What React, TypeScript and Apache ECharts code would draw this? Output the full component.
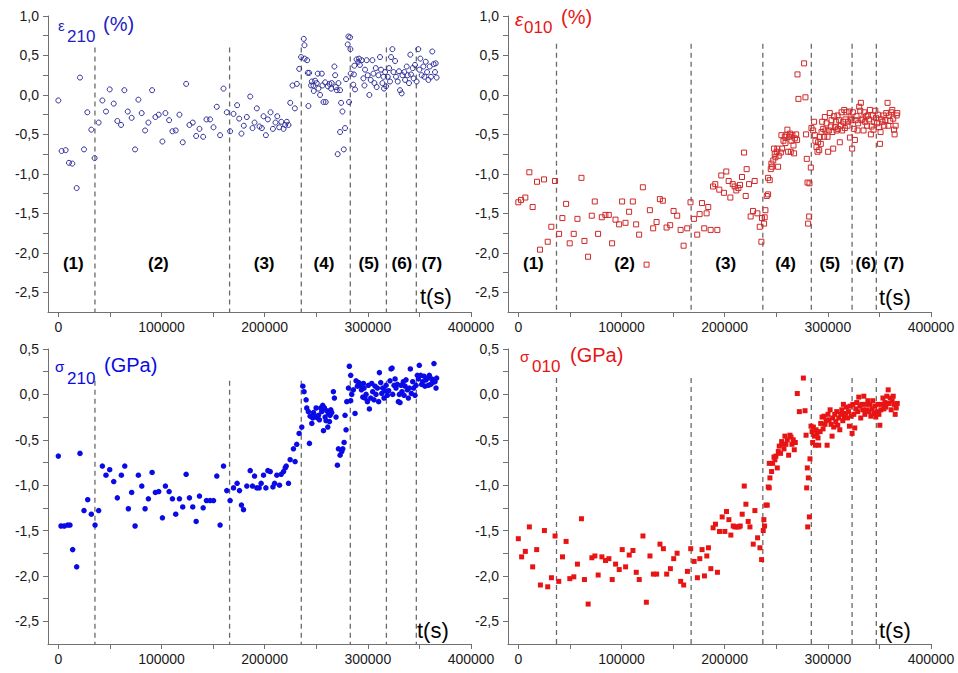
import React, { useEffect, useRef } from 'react';
import * as echarts from 'echarts';

// ---------- data (t in seconds, value) ----------
const eps210: number[][] = [
  [0,-0.07],[3200,-0.71],[7100,-0.70],[10300,-0.86],[13600,-0.87],[17800,-1.18],[21000,0.22],[24900,-0.69],[28100,-0.22],[32000,-0.44],[35200,-0.80],[39100,-0.35],[42700,-0.07],[46200,-0.21],[49800,0.07],[53700,-0.11],[57200,-0.33],[60800,-0.38],[64000,0.06],[67300,-0.21],[71100,-0.29],[74400,-0.69],[77600,-0.06],[80800,-0.23],[84100,-0.45],[87300,-0.35],[90900,0.06],[94100,-0.28],[97300,-0.25],[100900,-0.59],[103800,-0.23],[107400,-0.32],[110600,-0.46],[113800,-0.45],[117400,-0.25],[120600,-0.60],[123900,0.14],[127100,-0.38],[130300,-0.35],[133600,-0.52],[136800,-0.43],[140400,-0.53],[143600,-0.31],[147100,-0.31],[150400,-0.41],[153600,-0.15],[156800,-0.51],[160100,0.08],[163300,-0.22],[166500,-0.46],[169800,-0.24],[173300,-0.13],[175300,-0.30],[177500,-0.49],[179800,-0.39],[182700,-0.28],[186000,-0.02],[188200,-0.42],[190200,-0.35],[192400,-0.17],[195000,-0.40],[197300,-0.42],[198900,-0.27],[201200,-0.51],[203100,-0.31],[205700,-0.22],[208000,-0.43],[210500,-0.35],[212200,-0.27],[214100,-0.41],[216100,-0.34],[218300,-0.43],[219900,-0.38],[221500,-0.34],[223100,-0.38],[224800,-0.10],[227000,0.12],[229300,-0.17],[231200,0.14],[233500,0.33],
  [235300,0.48],[237900,0.71],[238600,0.63],[238700,0.46],[241200,0.44],[241800,0.28],[243100,0.28],[242400,-0.14],[245700,0.17],[245000,0.12],[247300,0.12],[248900,0.18],[250500,0.15],[247600,0.05],[251500,0.27],[252100,0.08],[253700,0.00],[255400,0.27],[256000,0.12],[257000,-0.09],[259200,-0.09],[258600,0.16],[261200,0.11],[262800,0.14],[264400,0.08],[265000,0.15],[267600,0.36],[268300,0.25],[269900,0.06],[269000,0.10],[271500,0.15],[273100,0.06],[274100,-0.10],[275400,-0.21],[273100,-0.47],[277900,-0.42],[270800,-0.75],[276700,-0.69],[278900,0.20],[280500,0.64],[281200,0.74],[282800,0.73],[283100,0.58],[281800,-0.09],[283400,0.27],[286500,0.26],[285900,0.13],[287600,0.07],[286900,0.37],[289100,0.45],[290700,0.42],[292300,0.38],[291500,0.46],[294100,0.44],[295700,0.21],[296700,0.12],[297300,0.32],[298900,0.44],[299900,0.25],[301500,0.00],[302800,0.19],[304400,0.44],[305400,0.27],[306400,0.15],[307700,0.34],[308600,0.10],[310200,0.25],[311800,0.48],[312800,0.32],[314100,0.15],[315100,0.23],[315700,0.08],[316700,0.29],[317700,0.11],[319300,0.23],[320600,0.34],[321500,0.17],[322500,0.48],[323800,0.58],[324800,0.29],[326400,0.43],[327300,0.23],[329000,0.17],[330200,0.30],[331200,0.06],[332800,0.02],[333500,0.25],[335400,0.29],[336100,0.19],[337700,0.36],[338600,0.25],[339900,0.15],[341200,0.51],[341800,0.26],[343500,0.34],[344400,0.21],[345700,0.38],[347300,0.17],[348900,0.58],[349900,0.32],[350900,0.46],[352200,0.25],[353800,0.36],[354800,0.23],[356100,0.42],[357400,0.29],[358700,0.19],[360000,0.36],[361200,0.23],[362500,0.55],[363800,0.39],[365100,0.29],[365800,0.40],[366700,0.22]
];

const eps010: number[][] = [
  [0,-1.36],[2600,-1.33],[6800,-1.30],[10700,-0.98],[13900,-1.42],[18100,-1.10],[21000,-1.96],[24900,-1.07],[28500,-1.86],[32000,-1.67],[35600,-1.09],[39500,-1.76],[42700,-1.56],[46300,-1.38],[49800,-1.88],[53700,-1.76],[57300,-1.57],[61200,-1.05],[64100,-1.85],[67600,-2.05],[71200,-1.53],[74100,-1.35],[77300,-1.76],[80900,-1.55],[84400,-1.52],[87700,-1.52],[90900,-1.88],[94200,-1.58],[97700,-1.64],[100600,-1.35],[103900,-1.62],[107400,-1.48],[111000,-1.35],[114200,-1.64],[117100,-1.77],[120700,-1.17],[124300,-2.15],[127500,-1.46],[130700,-1.69],[134000,-1.61],[137200,-1.32],[140100,-1.34],[143700,-1.68],[147200,-1.65],[150500,-1.47],[154000,-1.53],[157300,-1.71],[160200,-1.91],[163700,-1.69],[166900,-1.36],[170200,-1.57],[173400,-1.77],[175700,-1.51],[178000,-1.37],[180200,-1.69],[182500,-1.50],[184100,-1.42],[186400,-1.71],[188700,-1.16],[190900,-1.13],[192900,-1.71],[194800,-1.20],[196700,-1.02],[199300,-1.24],[201600,-0.97],[203900,-1.09],[205500,-1.30],[207800,-1.13],[209700,-1.16],[211300,-1.21],[213300,-1.18],[214900,-1.14],[216800,-1.04],[218800,-0.73],[220400,-1.28],[221300,-0.94],[223600,-1.13],[225200,-1.54],[227500,-1.47],[229100,-1.09],[231700,-1.50],[234000,-1.67],[235600,-1.86],[236200,-1.56],
  [238200,-1.63],[239500,-1.46],[238800,-1.55],[240800,-1.28],[242100,-1.26],[242100,-1.05],[243700,-1.08],[244700,-0.94],[245300,-0.87],[247100,-0.83],[246000,-0.91],[248500,-0.75],[249200,-0.79],[247900,-0.68],[250500,-0.72],[251100,-0.68],[251800,-0.91],[252400,-0.77],[254400,-0.73],[255000,-0.51],[255700,-0.68],[257000,-0.58],[258300,-0.53],[258900,-0.61],[259900,-0.51],[260800,-0.44],[261500,-0.72],[262500,-0.53],[263400,-0.49],[264100,-0.72],[264700,-0.58],[265700,-0.51],[266700,-0.64],[267300,-0.74],[268000,-0.55],[269300,-0.50],[270200,-0.57],[270600,0.26],[271500,-0.05],[277000,0.40],[278300,-0.03],[278900,-0.50],[279600,-0.81],[280300,-1.11],[282200,-1.12],[281900,-1.54],[280900,-1.63],[283500,-0.92],[284100,-0.42],[285800,-0.45],[286700,-0.34],[287400,-0.51],[288000,-0.58],[289000,-0.66],[290000,-0.72],[290600,-0.60],[291600,-0.70],[292200,-0.53],[293200,-0.62],[293900,-0.47],[294500,-0.34],[295500,-0.43],[296400,-0.53],[297100,-0.28],[297700,-0.45],[298700,-0.36],[299700,-0.53],[300300,-0.72],[301000,-0.45],[301900,-0.23],[302900,-0.40],[303600,-0.32],[304500,-0.47],[305200,-0.68],[306100,-0.27],[306800,-0.41],[307800,-0.34],[308400,-0.45],[309400,-0.26],[310000,-0.43],[311000,-0.32],[311600,-0.60],[312600,-0.39],[313300,-0.22],[313900,-0.45],[314900,-0.34],[315900,-0.19],[316500,-0.42],[317100,-0.31],[318100,-0.22],[319100,-0.39],[319700,-0.34],[320700,-0.21],[321400,-0.54],[322300,-0.30],[323000,-0.32],[323600,-0.68],[324300,-0.22],[325200,-0.43],[326200,-0.57],[326900,-0.32],[327800,-0.27],[328800,-0.45],[329400,-0.36],[330400,-0.15],[331400,-0.20],[332000,-0.10],[332700,-0.32],[333700,-0.30],[334600,-0.45],[335300,-0.22],[336200,-0.34],[337200,-0.27],[337900,-0.39],[338800,-0.26],[339800,-0.31],[340800,-0.19],[341700,-0.50],[342400,-0.40],[343400,-0.26],[344300,-0.44],[345000,-0.34],[346000,-0.20],[346600,-0.29],[347600,-0.36],[348500,-0.25],[349500,-0.41],[350500,-0.62],[351100,-0.47],[352100,-0.31],[353100,-0.34],[354000,-0.26],[354700,-0.39],[355700,-0.32],[356600,-0.23],[357900,-0.10],[358600,-0.39],[359500,-0.26],[360500,-0.33],[361500,-0.22],[362500,-0.19],[363400,-0.30],[364100,-0.44],[364700,-0.50],[365700,-0.39],[366700,-0.26],[367300,-0.23]
];

const sig210: number[][] = [
  [0,-0.68],[2600,-1.45],[5800,-1.45],[9100,-1.44],[11300,-1.44],[13900,-1.71],[17800,-1.90],[21000,-0.65],[24900,-1.28],[28500,-1.16],[32000,-1.32],[35600,-1.44],[39100,-1.28],[42700,-0.79],[46200,-0.89],[49800,-0.83],[53700,-0.96],[57200,-1.14],[61100,-0.89],[64400,-0.79],[67900,-1.26],[71100,-1.08],[74400,-1.45],[77600,-0.89],[80900,-1.01],[84100,-1.26],[87300,-1.15],[90900,-0.86],[94100,-1.08],[97300,-1.07],[100900,-1.36],[103800,-1.01],[107400,-1.07],[110600,-1.15],[113800,-1.32],[117400,-1.15],[120600,-1.24],[123900,-0.88],[127100,-1.14],[130300,-1.24],[133600,-1.40],[136800,-1.12],[140400,-1.25],[143600,-1.17],[147100,-1.17],[150400,-1.17],[153600,-0.90],[156800,-1.44],[160100,-0.79],[163300,-1.06],[166500,-1.17],[169800,-1.03],[173300,-0.98],[175600,-1.06],[177500,-1.22],[179500,-1.27],[182700,-1.01],[186000,-0.84],[188200,-1.01],[190200,-0.90],[192400,-1.03],[194700,-1.03],[196600,-0.98],[198900,-0.89],[201200,-1.03],[203100,-0.84],[205400,-0.85],[208000,-1.02],[209600,-0.98],[211800,-0.89],[214400,-1.00],[216000,-0.88],[218300,-0.85],[219900,-0.81],[220900,-0.79],[223100,-0.98],
  [224700,-0.72],[227900,-0.60],[229500,-0.74],[231100,-0.55],[233400,-0.43],[236000,-0.36],[237000,0.09],[238200,0.03],[240200,-0.06],[240800,-0.15],[242400,-0.19],[243400,-0.54],[244100,-0.24],[245700,-0.32],[246600,-0.26],[247300,-0.20],[248900,-0.24],[249900,-0.15],[251200,-0.26],[252100,-0.23],[253100,-0.28],[254400,-0.15],[255300,-0.19],[256300,-0.12],[257000,-0.40],[257900,-0.15],[258600,-0.25],[259500,-0.29],[260200,-0.18],[261200,-0.36],[261800,-0.21],[262800,-0.30],[263400,-0.23],[264100,-0.17],[265000,-0.20],[266600,0.03],[267600,-0.04],[269200,-0.25],[270500,-0.78],[271500,-0.60],[273100,-0.67],[274700,-0.63],[275700,-0.60],[277000,-0.53],[277900,-0.23],[278900,-0.39],[279600,-0.08],[281200,0.07],[282100,0.31],[283400,0.21],[283400,-0.07],[284400,0.00],[286000,0.05],[287600,-0.21],[288600,0.15],[289900,0.09],[291200,0.13],[292500,0.10],[293800,0.05],[295100,-0.03],[295700,0.12],[296300,0.07],[297300,-0.04],[298300,0.00],[299600,-0.08],[300500,0.10],[301500,-0.16],[302800,-0.04],[303800,0.12],[304700,0.03],[306000,-0.06],[307000,0.09],[307900,0.00],[309300,0.07],[310500,-0.08],[311200,0.24],[312500,0.13],[313500,0.01],[314400,0.07],[315700,-0.04],[316700,0.04],[317700,0.10],[318900,-0.01],[320200,0.04],[321500,0.15],[322500,0.28],[323500,0.29],[324100,0.00],[325400,0.10],[326400,0.17],[327300,0.07],[328600,0.11],[329600,-0.08],[330600,0.00],[331200,-0.09],[332200,0.10],[333100,0.03],[334400,0.14],[335100,-0.01],[336100,0.09],[337000,0.16],[338300,0.05],[339300,-0.04],[340200,0.07],[341200,0.28],[342200,0.01],[343500,0.14],[344400,0.07],[345700,-0.01],[346700,0.10],[348000,0.21],[349000,0.17],[349900,0.32],[351200,0.21],[352200,0.11],[353200,0.14],[354400,0.20],[355400,0.09],[356400,0.16],[357700,0.18],[358600,0.10],[359600,0.21],[360900,0.11],[361900,0.17],[362800,0.13],[364100,0.34],[365100,0.14],[366100,0.07],[366700,0.18]
];

const sig010: number[][] = [
  [0,-1.59],[3200,-1.79],[6800,-1.73],[10700,-1.46],[13900,-1.90],[17800,-1.71],[21400,-2.10],[25300,-1.50],[28500,-2.12],[32100,-2.02],[35600,-1.56],[39200,-2.06],[42800,-1.79],[46300,-1.62],[49900,-2.03],[53800,-2.01],[57300,-1.87],[61200,-1.37],[64100,-2.04],[67700,-2.31],[71300,-1.80],[74200,-1.78],[77400,-1.99],[81000,-1.79],[84500,-1.83],[87800,-1.81],[91000,-2.04],[94300,-1.87],[97800,-1.93],[100700,-1.71],[104000,-1.90],[107500,-1.77],[111100,-1.72],[114300,-1.96],[117200,-2.04],[120800,-1.56],[124100,-2.29],[127600,-1.78],[130900,-1.98],[134100,-1.98],[137300,-1.65],[140600,-1.70],[143800,-1.98],[147400,-1.92],[150600,-1.81],[153900,-1.75],[157400,-2.06],[160300,-2.10],[163900,-1.95],[167100,-1.70],[170400,-1.84],[173600,-2.02],[175900,-1.81],[178100,-1.71],[180400,-2.00],[182700,-1.78],[184300,-1.69],[186600,-1.92],[188800,-1.47],[191100,-1.43],[193000,-1.96],[195000,-1.51],[197600,-1.35],[200200,-1.51],[201800,-1.29],[204100,-1.38],[206000,-1.55],[208300,-1.45],[209900,-1.46],[211800,-1.46],[213800,-1.46],[215100,-1.45],[217000,-1.32],[219000,-1.01],[220600,-1.21],[222800,-1.40],[224500,-1.46],[227700,-1.65],[229300,-1.28],[231900,-1.58],[234200,-1.69],[235800,-1.82],
  [237400,-1.50],[238700,-1.45],[238000,-1.38],[240000,-1.22],[241300,-1.22],[242250,-1.02],[243200,-1.03],[243900,-0.92],[245500,-0.85],[246500,-0.76],[243200,-0.76],[247800,-0.69],[248700,-0.72],[249700,-0.68],[251000,-0.81],[252000,-0.63],[252900,-0.57],[254200,-0.65],[255200,-0.52],[256200,-0.55],[257500,-0.60],[258400,-0.46],[259400,-0.55],[260700,-0.50],[262000,-0.67],[263300,-0.45],[264300,-0.47],[265200,-0.55],[266500,-0.50],[267500,-0.61],[268500,-0.53],[270400,0.01],[272400,-0.19],[276300,0.18],[277900,-0.18],[278900,-0.45],[280100,-0.81],[281100,-0.92],[282700,-0.71],[279500,-1.03],[282100,-1.35],[280500,-1.46],[283700,-0.35],[284700,-0.41],[285300,-0.53],[286000,-0.36],[287000,-0.46],[287900,-0.56],[288600,-0.39],[289500,-0.43],[290500,-0.48],[291200,-0.56],[292500,-0.41],[293100,-0.32],[294400,-0.25],[295400,-0.38],[296300,-0.24],[297300,-0.33],[298300,-0.29],[299300,-0.56],[300200,-0.22],[301200,-0.28],[302200,-0.17],[303100,-0.33],[304100,-0.46],[304800,-0.26],[305700,-0.36],[306700,-0.22],[307700,-0.30],[308600,-0.19],[309600,-0.34],[310600,-0.26],[311600,-0.39],[312500,-0.22],[313500,-0.17],[314500,-0.29],[315100,-0.11],[316100,-0.25],[317100,-0.21],[318000,-0.14],[319000,-0.26],[320000,-0.19],[320900,-0.35],[321600,-0.13],[322600,-0.24],[323500,-0.43],[324200,-0.11],[325200,-0.22],[326100,-0.37],[327100,-0.16],[328100,-0.09],[329000,-0.19],[330000,-0.03],[331000,-0.13],[331900,-0.26],[332900,-0.11],[333900,-0.17],[334900,-0.02],[335900,-0.22],[336800,-0.11],[337800,-0.17],[338800,-0.07],[339700,-0.19],[340700,-0.11],[341700,-0.24],[342700,-0.16],[343600,-0.07],[344600,-0.21],[345600,-0.13],[346500,-0.25],[347500,-0.19],[348500,-0.11],[349500,-0.22],[350400,-0.34],[351400,-0.17],[352400,-0.11],[353400,-0.04],[354300,-0.16],[355300,-0.09],[356300,-0.14],[357200,-0.02],[358500,0.05],[359500,-0.10],[360500,-0.04],[361400,-0.17],[362400,-0.07],[363400,-0.02],[364400,-0.11],[365300,-0.22],[366300,-0.15],[367300,-0.10]
];

// stage boundaries (s)
const dividersLeft = [35500, 166000, 235500, 283000, 318000, 347000];
const dividersRight = [37000, 167500, 237000, 284000, 323500, 347000];
// stage labels
const stageNames = ['(1)', '(2)', '(3)', '(4)', '(5)', '(6)', '(7)'];
const stageCentersLeft = [14500, 97000, 199500, 257500, 301000, 333000, 362000];
const stageCentersRight = [14600, 103000, 201000, 259000, 302000, 337000, 364000];
const stageLabelY = -2.13;

const xLabelValues = [0, 100000, 200000, 300000, 400000];
const xTickValues = [0, 50000, 100000, 150000, 200000, 250000, 300000, 350000, 400000];
const yTopLabelValues = [-2.5, -2.0, -1.5, -1.0, -0.5, 0.0, 0.5, 1.0];
const yTopTickValues = [-2.5, -2.25, -2.0, -1.75, -1.5, -1.25, -1.0, -0.75, -0.5, -0.25, 0.0, 0.25, 0.5, 0.75, 1.0];
const yBotLabelValues = [-2.5, -2.0, -1.5, -1.0, -0.5, 0.0, 0.5];
const yBotTickValues = [-2.5, -2.25, -2.0, -1.75, -1.5, -1.25, -1.0, -0.75, -0.5, -0.25, 0.0, 0.25, 0.5];

const FONT = '"Liberation Sans", Arial, sans-serif';
const AXIS_COLOR = '#707070';
const LABEL_COLOR = '#1a1a1a';
const BLUE_OPEN = '#2e2e9a';
const BLUE = '#0a0ae6';
const RED = '#e81414';
const DASH = '#6a6a6a';

const fmtY = (v: number) => v.toFixed(1).replace('.', ',');

export default function App() {
  const ref = useRef<HTMLDivElement>(null);
  useEffect(() => {
    if (!ref.current) return;
    const chart = echarts.init(ref.current, undefined, { renderer: 'svg' });

    const grids = [
      { left: 48, top: 16, width: 423, height: 296 },
      { left: 508, top: 16, width: 423, height: 296 },
      { left: 48, top: 349, width: 423, height: 295 },
      { left: 508, top: 349, width: 423, height: 295 },
    ];
    const yRanges = [
      [-2.75, 1.0], [-2.75, 1.0], [-2.75, 0.5], [-2.75, 0.5],
    ];

    const xAxis = grids.map((_, i) => ({
      gridIndex: i, type: 'value', min: -10000, max: 400000,
      axisLine: { show: true, onZero: false, lineStyle: { color: AXIS_COLOR, width: 1 } },
      axisTick: { show: true, length: 5, customValues: xTickValues, lineStyle: { color: AXIS_COLOR } },
      axisLabel: { customValues: xLabelValues, formatter: (v: number) => String(v), fontSize: 14, color: LABEL_COLOR, fontFamily: FONT, margin: 8 },
      splitLine: { show: false },
    }));
    const yAxis = grids.map((_, i) => ({
      gridIndex: i, type: 'value', min: yRanges[i][0], max: yRanges[i][1],
      axisLine: { show: true, onZero: false, lineStyle: { color: AXIS_COLOR, width: 1 } },
      axisTick: { show: true, length: 5, customValues: i < 2 ? yTopTickValues : yBotTickValues, lineStyle: { color: AXIS_COLOR } },
      axisLabel: { customValues: i < 2 ? yTopLabelValues : yBotLabelValues, formatter: fmtY, fontSize: 14, color: LABEL_COLOR, fontFamily: FONT, margin: 9 },
      splitLine: { show: false },
    }));

    const series: any[] = [];
    const dividerTop = [0.6, 0.65, 0.15, 0.18];
    [0, 1, 2, 3].forEach((i) => {
      const divs = i % 2 === 0 ? dividersLeft : dividersRight;
      divs.forEach((d) => {
        series.push({
          type: 'line', xAxisIndex: i, yAxisIndex: i, silent: true, showSymbol: false, symbol: 'none',
          data: [[d, dividerTop[i]], [d, -2.75]],
          lineStyle: { color: DASH, width: 1.3, type: [5, 4] },
          z: 1,
        });
      });
    });

    series.push({
      type: 'scatter', xAxisIndex: 0, yAxisIndex: 0, data: eps210, symbol: 'circle', symbolSize: 5,
      itemStyle: { color: 'rgba(255,255,255,0)', borderColor: BLUE_OPEN, borderWidth: 1, opacity: 1 }, z: 3,
    });
    series.push({
      type: 'scatter', xAxisIndex: 1, yAxisIndex: 1, data: eps010, symbol: 'rect', symbolSize: 5,
      itemStyle: { color: 'rgba(255,255,255,0)', borderColor: '#d02828', borderWidth: 1, opacity: 1 }, z: 3,
    });
    series.push({
      type: 'scatter', xAxisIndex: 2, yAxisIndex: 2, data: sig210, symbol: 'circle', symbolSize: 5.5,
      itemStyle: { color: BLUE, opacity: 1 }, z: 3,
    });
    series.push({
      type: 'scatter', xAxisIndex: 3, yAxisIndex: 3, data: sig010, symbol: 'rect', symbolSize: 5,
      itemStyle: { color: RED, opacity: 1 }, z: 3,
    });

    // stage labels
    [0, 1].forEach((i) => {
      const centers = i === 0 ? stageCentersLeft : stageCentersRight;
      series.push({
        type: 'scatter', xAxisIndex: i, yAxisIndex: i, silent: true, symbolSize: 0,
        itemStyle: { opacity: 1 },
        data: stageNames.map((n, k) => ({ name: n, value: [centers[k], stageLabelY] })),
        label: { show: true, position: 'inside', formatter: '{b}', fontSize: 17, fontWeight: 'bold', color: '#000', opacity: 1, fontFamily: FONT },
        z: 4,
      });
    });

    const txt = (x: number, y: number, text: string, fill: string, fontSize: number, extra: any = {}) => ({
      type: 'text', x, y, silent: true, z: 10,
      style: { text, fill, fontSize, fontFamily: FONT, align: 'left', verticalAlign: 'middle', ...extra },
    });

    const graphic = [
      txt(58, 25, 'ε', '#2222c4', 15),
      txt(67, 36, '210', '#2222c4', 17),
      txt(103, 24, '(%)', '#2222c4', 20),
      txt(515, 19, 'ε', RED, 19, { fontStyle: 'italic' }),
      txt(524, 27, '010', RED, 17),
      txt(561, 17, '(%)', RED, 20),
      txt(55, 366, 'σ', BLUE, 15),
      txt(67, 378, '210', BLUE, 17),
      txt(104, 365, '(GPa)', BLUE, 20),
      txt(520, 356, 'σ', RED, 15),
      txt(532, 366, '010', RED, 17),
      txt(570, 355, '(GPa)', RED, 20),
      txt(420, 296, 't(s)', '#000', 22),
      txt(879, 297, 't(s)', '#000', 22),
      txt(417, 630, 't(s)', '#000', 22),
      txt(879, 630, 't(s)', '#000', 22),
    ];

    chart.setOption({
      animation: false,
      backgroundColor: '#ffffff',
      grid: grids,
      xAxis,
      yAxis,
      series,
      graphic,
    } as any);
    return () => chart.dispose();
  }, []);

  return <div ref={ref} style={{ position: 'fixed', left: 0, top: 0, width: 958, height: 673 }} />;
}
